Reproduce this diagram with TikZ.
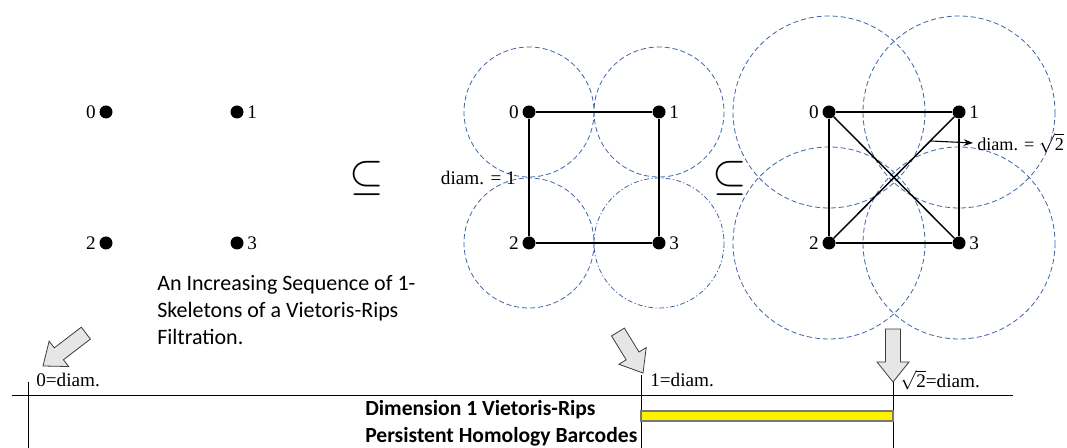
\documentclass[tikz,border=0pt]{standalone}
\usepackage{fontspec}
\setmainfont{Liberation Serif}
\newfontfamily\calib{Carlito}
\usetikzlibrary{arrows.meta}
\definecolor{ringblue}{RGB}{60,100,165}
\definecolor{arrfill}{RGB}{230,230,230}
\definecolor{arrdraw}{RGB}{60,60,60}
\definecolor{bargray}{RGB}{120,120,120}
\newcommand{\blockarr}[3]{%
  \begin{scope}[shift={(#1)},rotate=#2]
    \draw[barrow] (0,0) -- (-20,16) -- (-20,7.5) -- (-#3,7.5) -- (-#3,-7.5) -- (-20,-7.5) -- (-20,-16) -- cycle;
  \end{scope}}
\begin{document}
\begin{tikzpicture}[x=0.75pt,y=-0.75pt,
  vtx/.style={circle,fill=black,inner sep=0pt,minimum size=9.75pt},
  edge/.style={line width=1.1pt,black},
  ring/.style={draw=ringblue,line width=0.6pt,dash pattern=on 3.8pt off 2.2pt},
  ringdd/.style={draw=ringblue,line width=0.6pt,dash pattern=on 3.6pt off 1.8pt on 0.9pt off 1.8pt},
  lab/.style={font=\fontsize{14.4}{16}\selectfont,inner sep=0pt},
  lablft/.style={lab,anchor=east,xshift=-2.5pt},
  labrgt/.style={lab,anchor=west,xshift=2.5pt},
  subs/.style={font=\fontsize{20}{24}\selectfont,inner sep=0pt,scale=1.6},
  thin/.style={line width=0.6pt,black},
  barrow/.style={fill=arrfill,draw=arrdraw,line width=0.6pt,line join=miter}]
\useasboundingbox (0,0) rectangle (1067,448);

% ---- panel 1: isolated vertices
\node[vtx] (a0) at (106,112) {};
\node[vtx] (a1) at (237,112) {};
\node[vtx] (a2) at (106,243) {};
\node[vtx] (a3) at (237,243) {};
\node[lablft] (la0) at (a0.west) {0};
\node[labrgt] (la1) at (a1.east) {1};
\node[lablft] (la2) at (a2.west) {2};
\node[labrgt] (la3) at (a3.east) {3};

\node[subs] (sub1) at (367,178) {$\subseteq$};

\node[anchor=north west,inner sep=0pt,align=left,font=\calib\fontsize{16.5}{20.25}\selectfont] (caption) at (157,275)
  {An Increasing Sequence of 1-\\Skeletons of a Vietoris-Rips\\Filtration.};

% ---- panel 2: square, diam = 1
\draw[ring] (529,112) circle[radius=65];
\draw[ring] (659,112) circle[radius=65];
\draw[ring] (529,243) circle[radius=65];
\draw[ringdd] (659,243) circle[radius=65];
\node[vtx] (b0) at (529,112) {};
\node[vtx] (b1) at (659,112) {};
\node[vtx] (b2) at (529,243) {};
\node[vtx] (b3) at (659,243) {};
\draw[edge] (b0) -- (b1) -- (b3) -- (b2) -- (b0);
\node[lablft] (lb0) at (b0.west) {0};
\node[labrgt] (lb1) at (b1.east) {1};
\node[lablft] (lb2) at (b2.west) {2};
\node[labrgt] (lb3) at (b3.east) {3};
\node[lab,anchor=east] (diam1) at (516,178) {diam. = 1};

\node[subs] (sub2) at (730,178) {$\subseteq$};

% ---- panel 3: square with diagonals, diam = sqrt 2
\draw[ring] (829,112) circle[radius=96];
\draw[ring] (959,112) circle[radius=96];
\draw[ring] (829,243) circle[radius=96];
\draw[ring] (959,243) circle[radius=96];
\node[vtx] (c0) at (829,112) {};
\node[vtx] (c1) at (959,112) {};
\node[vtx] (c2) at (829,243) {};
\node[vtx] (c3) at (959,243) {};
\draw[edge] (c0) -- (c1) -- (c3) -- (c2) -- (c0);
\draw[edge] (c0) -- (c3);
\draw[edge] (c1) -- (c2);
\node[lablft] (lc0) at (c0.west) {0};
\node[labrgt] (lc1) at (c1.east) {1};
\node[lablft] (lc2) at (c2.west) {2};
\node[labrgt] (lc3) at (c3.east) {3};
\coordinate (d2start) at (931,141);
\node[lab,anchor=west,font=\fontsize{13.6}{16}\selectfont] (diam2) at (977,143) {diam. = $\sqrt{\mbox{2}}$};
\draw[thin,line width=0.8pt,-{Stealth[length=7pt,width=5pt]}] (d2start) -- ([xshift=-3pt]diam2.west);

% ---- barcode axis
\coordinate (axL) at (12,395);
\coordinate (axR) at (1013,395);
\draw[thin] (axL) -- (axR);
\coordinate (t0a) at (28,382);  \coordinate (t0b) at (28,448);
\coordinate (t1a) at (641,375); \coordinate (t1b) at (641,448);
\coordinate (t2a) at (893,382); \coordinate (t2b) at (893,448);
\draw[thin] (t0a) -- (t0b);
\draw[thin] (t1a) -- (t1b);
\draw[thin] (t2a) -- (t2b);
\node[lab,anchor=west] (x0) at (36,380) {0=diam.};
\node[lab,anchor=west] (x1) at (650,380) {1=diam.};
\node[lab,anchor=west] (x2) at (900,380) {$\sqrt{\mbox{2}}$=diam.};

\draw[fill=yellow,draw=bargray,line width=0.8pt] (641,411) rectangle (893,421);

\node[anchor=north west,inner sep=0pt,align=left,font=\calib\bfseries\fontsize{16.2}{20.25}\selectfont] (bartitle) at (365,400)
  {Dimension 1 Vietoris-Rips\\Persistent Homology Barcodes};

% ---- block arrows
\blockarr{43,366}{-142.5}{54}
\blockarr{643,373}{-58.6}{48}
\blockarr{893,382}{-90}{53}
\end{tikzpicture}
\end{document}
